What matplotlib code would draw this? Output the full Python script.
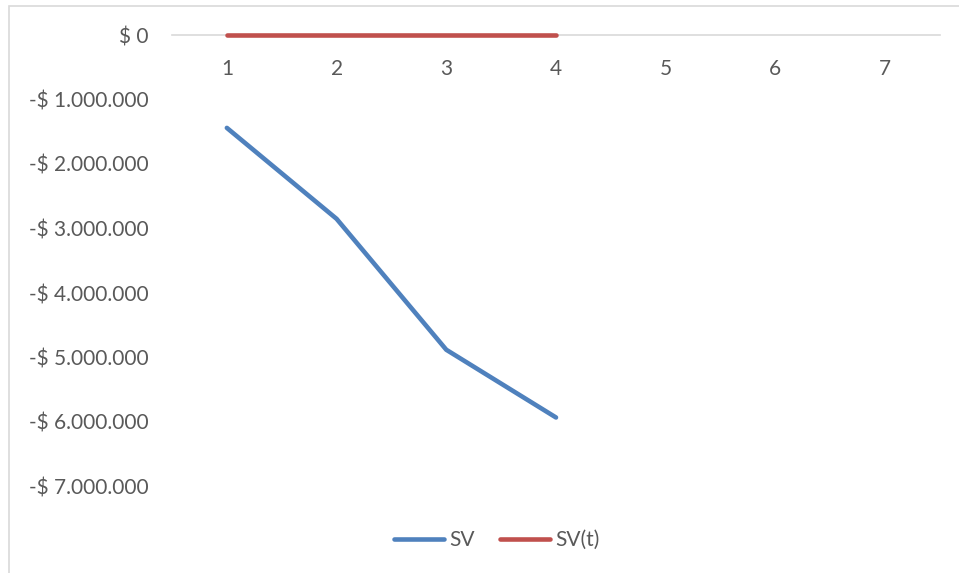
import matplotlib
matplotlib.use("Agg")
import matplotlib.pyplot as plt
from matplotlib.patches import Rectangle
from matplotlib.ticker import FuncFormatter

periods = [1, 2, 3, 4]
sv = [-1440000, -2850000, -4880000, -5930000]
svt = [0, 0, 0, 0]
x_ticks = [1, 2, 3, 4, 5, 6, 7]
y_ticks = [0, -1000000, -2000000, -3000000, -4000000, -5000000, -6000000, -7000000]

plt.rcParams['font.family'] = ['Lato', 'DejaVu Sans']
txt = '#595959'

fig = plt.figure(figsize=(9.59, 5.73), dpi=100)
fig.patches.append(Rectangle((9/959, -0.1), 1.2, 1.1 - 6/573, transform=fig.transFigure,
                             fill=False, edgecolor='#D9D9D9', linewidth=1.2))
ax = fig.add_axes([172/959, 1 - 551/573, 768/959, 516/573])

ax.plot(periods, sv, color='#4F81BD', lw=3.3, solid_capstyle='round', label='SV', zorder=3)
ax.plot(periods, svt, color='#C0504D', lw=3.3, solid_capstyle='round', label='SV(t)', zorder=3,
        clip_on=False)

ax.set_xlim(0.5, 7.5)
ax.set_ylim(-8000000, 0)

for s in ['top', 'right', 'left']:
    ax.spines[s].set_visible(False)
ax.spines['bottom'].set_position(('data', 0))
ax.spines['bottom'].set_color('#D9D9D9')
ax.spines['bottom'].set_linewidth(1.2)
ax.spines['bottom'].set_zorder(1)

ax.set_xticks(x_ticks)
ax.set_yticks(y_ticks)

def fmt(v, pos):
    if v == 0:
        return '$ 0'
    s = f"{abs(int(v)):,}".replace(',', '.')
    return f"-$ {s}"

ax.yaxis.set_major_formatter(FuncFormatter(fmt))
ax.tick_params(axis='x', length=0, pad=17, labelsize=15, labelcolor=txt)
ax.tick_params(axis='y', length=0, pad=17, labelsize=15, labelcolor=txt)

leg = fig.legend(loc='center', bbox_to_anchor=(497/959, 1 - 540/573), ncol=2, frameon=False,
                 fontsize=15, handlelength=2.4, handletextpad=0.25, columnspacing=1.2)
for t in leg.get_texts():
    t.set_color(txt)

fig.savefig('out.png', dpi=100)
